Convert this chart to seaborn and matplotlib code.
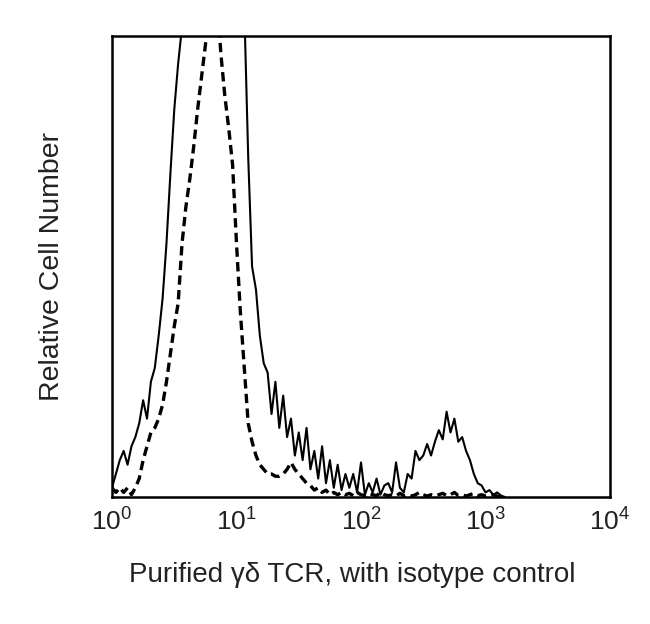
import matplotlib
matplotlib.use('Agg')
import matplotlib.pyplot as plt
import seaborn as sns
import numpy as np
import pandas as pd

# histogram channels: 32 per decade, starting at 10^0
bins_per_decade = 32

# gamma-delta TCR stained sample (solid line)
stained = [2, 5, 8, 10, 7, 11, 13, 16, 21, 17, 25, 28, 35, 43, 55, 70,
           84, 94, 102, 108, 112, 118, 125, 130, 128, 135, 132, 138, 130, 126,
           124, 120, 118, 112, 106, 74, 50, 45, 35, 29, 27, 18, 25, 15, 22,
           13, 17, 9, 14, 8, 15, 6, 10, 4, 11, 3, 8, 2, 7, 1.5, 5, 2, 5, 1,
           7.5, 0.5, 3, 1, 4, 0.5, 2.5, 3, 1, 7.5, 2, 1, 5, 4, 10, 8, 9, 11.5,
           9, 12, 14.5, 12.5, 18.5, 14, 17, 12, 13, 10, 8, 5, 3, 2.5, 1, 1.5,
           0.5, 1, 0.3, 0]

# isotype control (dashed line)
isotype = [2, 1, 2, 1, 2, 0.5, 2, 4, 8, 11, 14, 15, 17, 20, 25, 31, 37,
           42, 55, 63, 69, 76, 84, 91, 98, 106, 110, 108, 96, 87, 80, 72,
           55, 40, 28, 16, 12, 9, 7, 6, 5, 5, 4.5, 4.5, 5, 6, 7.5, 6, 5, 4,
           3, 2.5, 1.5, 2, 1, 1.5, 0.5, 1, 0.5, 1, 0.5, 0.8, 0.3, 1, 0.5,
           0.3, 0.8, 0.5, 0.3, 1, 0.5, 0.3, 0.5, 0.2, 0.8, 0.3, 0.5, 0.2,
           0.5, 1, 0.5, 0.2, 0.5, 0.3, 0.5, 0.8, 0.3, 0.5, 1, 0.3, 0.5,
           0.2, 0.5, 0.8, 0.3, 0.5, 0.2, 0.3, 0.5, 0.2, 0]

xticks = [1, 10, 100, 1000, 10000]

df = pd.concat([
    pd.DataFrame({'channel': 10 ** (np.arange(len(stained)) / bins_per_decade),
                  'count': stained, 'sample': 'stained'}),
    pd.DataFrame({'channel': 10 ** (np.arange(len(isotype)) / bins_per_decade),
                  'count': isotype, 'sample': 'isotype'}),
])

sns.set_style('white')
plt.rcParams['font.family'] = ['Liberation Sans', 'DejaVu Sans']

fig = plt.figure(figsize=(6.5, 6.24), dpi=100)
ax = fig.add_axes([0.1723, 0.2035, 0.7662, 0.7388])

sns.lineplot(data=df[df['sample'] == 'stained'], x='channel', y='count',
             color='black', lw=1.5, ax=ax, legend=False)
sns.lineplot(data=df[df['sample'] == 'isotype'], x='channel', y='count',
             color='black', lw=2.4, ax=ax, legend=False)
ax.lines[1].set_dashes([2.8, 1.6])

ax.set_xscale('log')
ax.set_xlim(1, 10000)
ax.set_ylim(0, 100)
ax.set_xticks(xticks)
ax.set_xticklabels([r'$\mathdefault{10^{%d}}$' % i for i in range(5)])
ax.minorticks_off()
ax.set_yticks([])
ax.tick_params(axis='x', length=0, pad=8, labelsize=19, labelcolor='#222222')

for s in ax.spines.values():
    s.set_linewidth(1.8)
    s.set_color('black')

ax.set_xlabel('Purified γδ TCR, with isotype control', fontsize=20,
              color='#222222', labelpad=19)
ax.xaxis.label.set_x(0.482)
ax.set_ylabel('Relative Cell Number', fontsize=20.5, color='#222222', labelpad=34)

fig.savefig('out.png', dpi=100)
